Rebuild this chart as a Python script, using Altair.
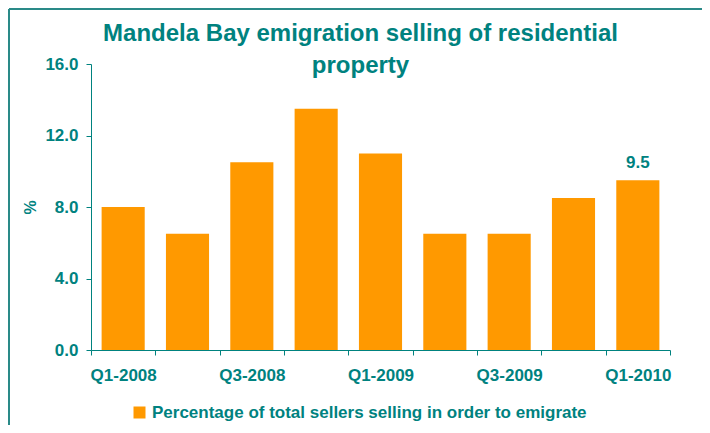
import altair as alt
import pandas as pd

quarters = ["Q1-2008", "Q2-2008", "Q3-2008", "Q4-2008", "Q1-2009",
            "Q2-2009", "Q3-2009", "Q4-2009", "Q1-2010"]
values = [8.0, 6.5, 10.5, 13.5, 11.0, 6.5, 6.5, 8.5, 9.5]
series_name = "Percentage of total sellers selling in order to emigrate"
label_quarter = ["Q1-2010"]

TEAL = "#00827F"
ORANGE = "#FF9900"
FONT = "Liberation Sans"

df = pd.DataFrame({"quarter": quarters, "value": values, "series": series_name})
df["label"] = [f"{v:.1f}" if q in label_quarter else "" for q, v in zip(quarters, values)]

x_enc = alt.X("quarter:N", sort=quarters, title=None,
              scale=alt.Scale(paddingInner=0, paddingOuter=0),
              axis=alt.Axis(labelAngle=0, tickBand="extent",
                            labelExpr="substring(datum.value, 0, 2) == 'Q1' || substring(datum.value, 0, 2) == 'Q3' ? datum.value : ''",
                            labelFont=FONT, labelFontSize=17, labelFontWeight="bold",
                            labelColor=TEAL, labelPadding=12, tickSize=5,
                            domainColor=TEAL, tickColor=TEAL, grid=False))

bars = alt.Chart(df).mark_bar(color=ORANGE, width=alt.RelativeBandSize(0.67)).encode(
    x=x_enc,
    y=alt.Y("value:Q", title="%",
            scale=alt.Scale(domain=[0, 16]),
            axis=alt.Axis(values=[0, 4, 8, 12, 16], format=".1f", grid=False,
                          labelFont=FONT, labelFontSize=17, labelFontWeight="bold",
                          labelColor=TEAL, tickSize=5, labelPadding=8,
                          domainColor=TEAL, tickColor=TEAL,
                          titleFont=FONT, titleFontSize=16, titleFontWeight="bold",
                          titleColor=TEAL, titleX=-61, titleY=143, titleAngle=270,
                          titleAlign="center", titleBaseline="middle")),
    color=alt.Color("series:N",
                    scale=alt.Scale(range=[ORANGE]),
                    legend=alt.Legend(title=None, orient="none", legendX=40, legendY=340,
                                      symbolType="square", symbolSize=144,
                                      symbolStrokeWidth=0, symbolOpacity=1,
                                      labelOffset=4,
                                      labelFont=FONT, labelFontSize=17,
                                      labelFontWeight="bold", labelColor=TEAL,
                                      labelLimit=700)),
)

labels = alt.Chart(df).mark_text(dy=-17, font=FONT, fontSize=17, fontWeight="bold",
                                 color=TEAL).encode(
    x=alt.X("quarter:N", sort=quarters),
    y="value:Q",
    text="label:N",
)

frame_left = alt.Chart(df.head(1)).mark_rule(color="#2A8A88", strokeWidth=2).encode(
    x=alt.value(-82), y=alt.value(-55), y2=alt.value(400))
frame_top = alt.Chart(df.head(1)).mark_rule(color="#2A8A88", strokeWidth=2).encode(
    x=alt.value(-82), x2=alt.value(700), y=alt.value(-55))

chart = alt.layer(bars, labels, frame_left, frame_top).properties(
    width=579, height=286,
    title=alt.TitleParams(
        text=["Mandela Bay emigration selling of residential", "property"],
        font=FONT, fontSize=24, fontWeight="bold", color=TEAL,
        anchor="middle", dx=-20, offset=-70, lineHeight=32, frame="group"),
    autosize=alt.AutoSizeParams(type="none"),
    padding={"left": 83, "top": 56, "right": 32, "bottom": 75},
).configure_view(stroke=None)

chart.save("out.html", embed_options={"renderer": "svg", "actions": False})
